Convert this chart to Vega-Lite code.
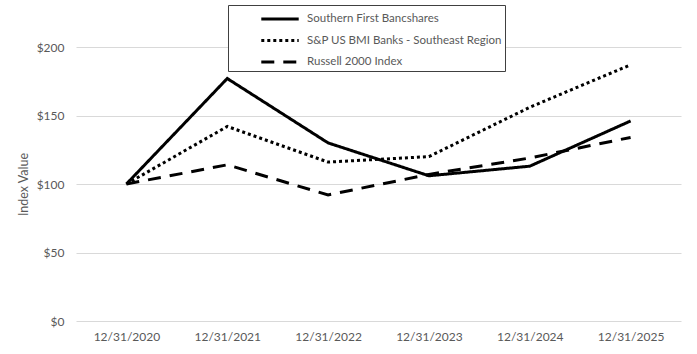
{
  "$schema": "https://vega.github.io/schema/vega-lite/v6.json",
  "width": 605,
  "height": 274,
  "autosize": {"type": "none"},
  "padding": {"left": 76, "top": 47, "right": 16, "bottom": 33},
  "background": "white",
  "config": {
    "view": {"stroke": null},
    "font": "Lato"
  },
  "data": {
    "values": [
      {"date": "12/31/2020", "series": "Southern First Bancshares", "value": 100},
      {"date": "12/31/2021", "series": "Southern First Bancshares", "value": 177},
      {"date": "12/31/2022", "series": "Southern First Bancshares", "value": 130},
      {"date": "12/31/2023", "series": "Southern First Bancshares", "value": 106},
      {"date": "12/31/2024", "series": "Southern First Bancshares", "value": 113},
      {"date": "12/31/2025", "series": "Southern First Bancshares", "value": 146},
      {"date": "12/31/2020", "series": "S&P US BMI Banks - Southeast Region", "value": 100},
      {"date": "12/31/2021", "series": "S&P US BMI Banks - Southeast Region", "value": 142},
      {"date": "12/31/2022", "series": "S&P US BMI Banks - Southeast Region", "value": 116},
      {"date": "12/31/2023", "series": "S&P US BMI Banks - Southeast Region", "value": 120},
      {"date": "12/31/2024", "series": "S&P US BMI Banks - Southeast Region", "value": 156},
      {"date": "12/31/2025", "series": "S&P US BMI Banks - Southeast Region", "value": 187},
      {"date": "12/31/2020", "series": "Russell 2000 Index", "value": 100},
      {"date": "12/31/2021", "series": "Russell 2000 Index", "value": 114},
      {"date": "12/31/2022", "series": "Russell 2000 Index", "value": 92},
      {"date": "12/31/2023", "series": "Russell 2000 Index", "value": 107},
      {"date": "12/31/2024", "series": "Russell 2000 Index", "value": 119},
      {"date": "12/31/2025", "series": "Russell 2000 Index", "value": 134}
    ]
  },
  "mark": {"type": "line", "strokeWidth": 3, "color": "black"},
  "encoding": {
    "x": {
      "field": "date",
      "type": "ordinal",
      "sort": null,
      "scale": {"padding": 0.5},
      "axis": {"title": null, "labelAngle": 0, "ticks": false, "domain": false, "labelPadding": 10, "grid": false, "labelColor": "#595959", "labelFont": "Lato", "labelFontSize": 12}
    },
    "y": {
      "field": "value",
      "type": "quantitative",
      "scale": {"domain": [0, 200]},
      "axis": {"title": "Index Value", "values": [0, 50, 100, 150, 200], "format": "$.0f", "ticks": false, "domain": false, "labelPadding": 12, "titlePadding": 6, "gridColor": "#d9d9d9", "gridWidth": 1, "labelColor": "#595959", "labelFont": "Lato", "labelFontSize": 12, "titleColor": "#595959", "titleFont": "Lato", "titleFontSize": 12.5, "titleFontWeight": "normal"}
    },
    "strokeDash": {
      "field": "series",
      "type": "nominal",
      "scale": {
        "domain": ["Southern First Bancshares", "S&P US BMI Banks - Southeast Region", "Russell 2000 Index"],
        "range": [[1, 0], [3, 3], [13, 9]]
      },
      "legend": {
        "title": null,
        "orient": "none",
        "legendX": 152,
        "legendY": -42,
        "strokeColor": "#404040",
        "fillColor": "white",
        "padding": 3,
        "rowPadding": 4.5,
        "symbolType": "M-2,0H2",
        "symbolSize": 350,
        "symbolStrokeWidth": 3,
        "symbolStrokeColor": "black",
        "symbolOffset": 38,
        "labelOffset": 16,
        "labelLimit": 400,
        "labelFont": "Lato",
        "labelFontSize": 11.5,
        "labelColor": "#595959"
      }
    }
  }
}
